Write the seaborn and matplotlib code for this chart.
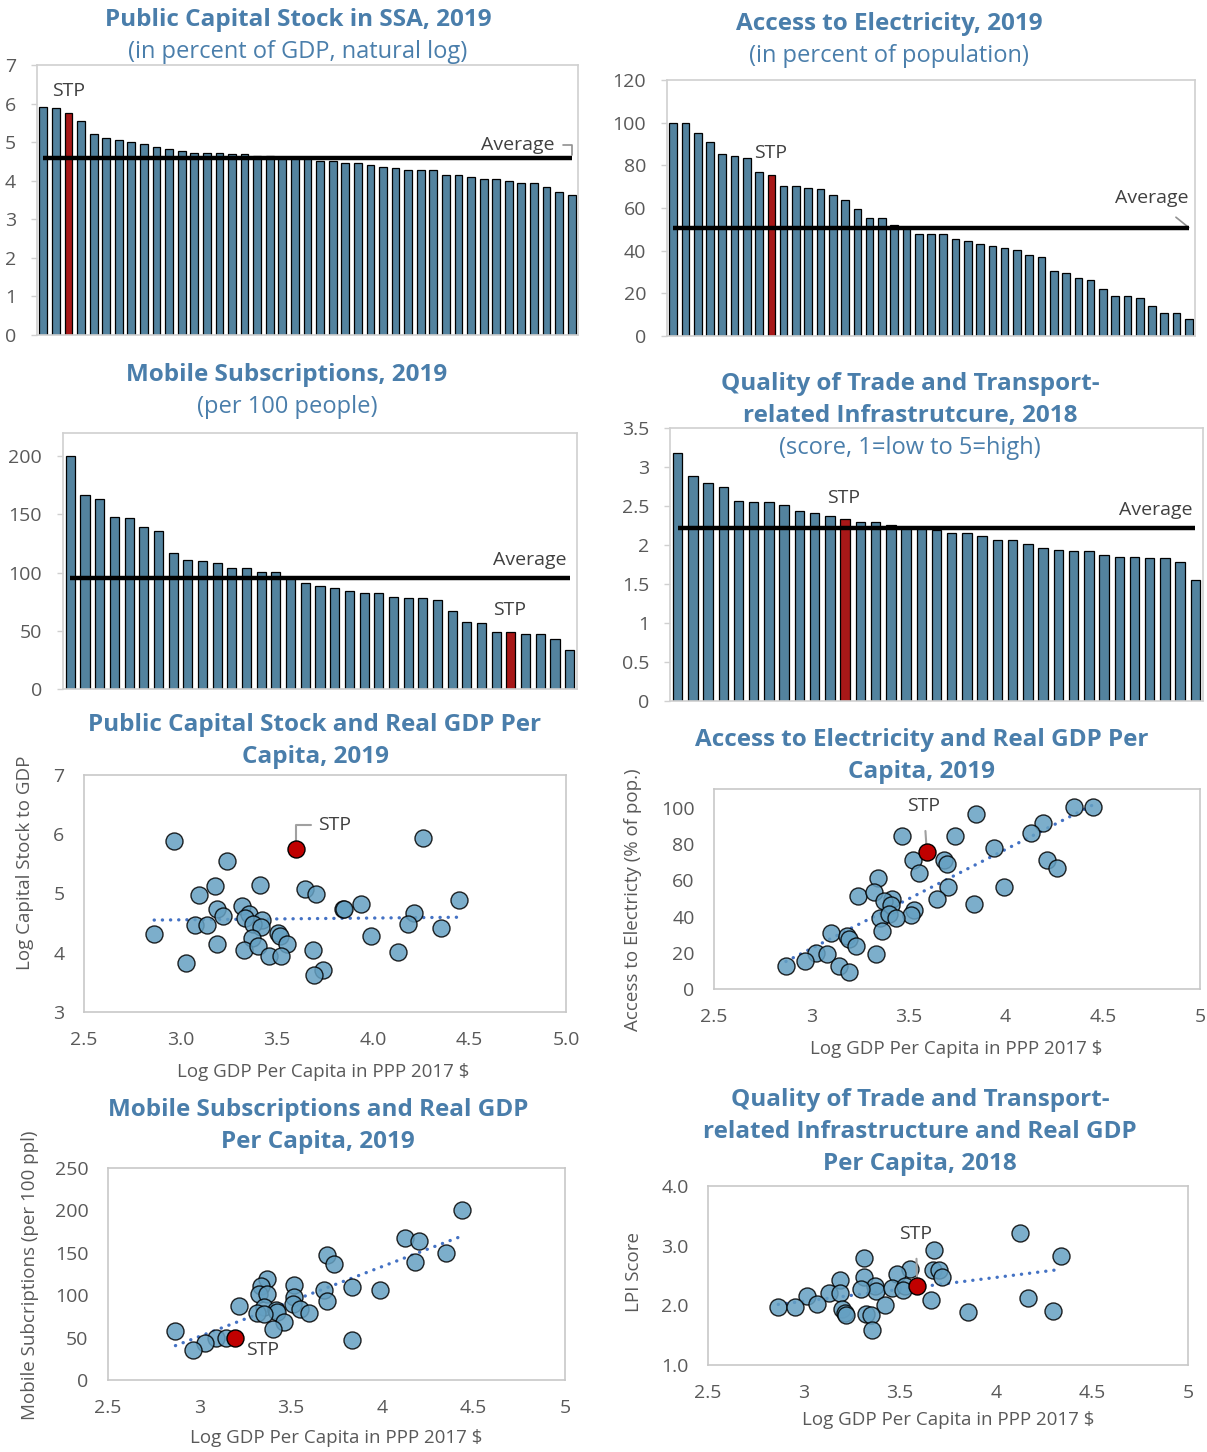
import numpy as np
import pandas as pd
import matplotlib
matplotlib.use("Agg")
import matplotlib.pyplot as plt
import seaborn as sns

sns.set_theme(style="white")
plt.rcParams["font.family"] = ["Open Sans", "DejaVu Sans"]

# ---------------- data ----------------
# Bar panels: values sorted high to low; STP position marked separately
capital_stock = [5.92, 5.88, 5.75, 5.55, 5.20, 5.10, 5.05, 5.00, 4.95, 4.87,
                 4.82, 4.77, 4.72, 4.72, 4.72, 4.68, 4.68, 4.63, 4.63, 4.58,
                 4.58, 4.58, 4.50, 4.50, 4.45, 4.45, 4.40, 4.35, 4.32, 4.28,
                 4.28, 4.28, 4.15, 4.15, 4.10, 4.05, 4.05, 4.00, 3.95, 3.95,
                 3.85, 3.72, 3.62]
capital_stp = 2

electricity = [100.0, 100.0, 95.2, 91.0, 85.2, 84.4, 83.4, 76.9, 75.5, 70.3,
               70.3, 69.5, 68.8, 66.1, 63.8, 59.5, 55.5, 55.5, 52.0, 51.0,
               47.8, 47.8, 47.8, 45.5, 44.5, 43.0, 42.2, 41.3, 40.5, 38.0,
               37.0, 30.5, 29.7, 27.2, 26.4, 22.2, 18.9, 18.9, 18.0, 13.9,
               10.6, 10.6, 8.1]
electricity_stp = 8

mobile = [200.0, 166.3, 163.4, 148.1, 146.7, 138.9, 135.7, 117.3, 111.2, 109.8,
          108.4, 103.7, 103.7, 100.6, 100.6, 95.7, 91.4, 88.5, 87.0, 83.9,
          82.4, 82.4, 79.3, 77.8, 77.8, 76.1, 67.1, 57.9, 56.5, 49.0,
          49.0, 47.3, 47.3, 42.9, 33.7]
mobile_stp = 30

lpi = [3.18, 2.89, 2.80, 2.75, 2.57, 2.55, 2.55, 2.51, 2.44, 2.41,
       2.37, 2.33, 2.30, 2.30, 2.26, 2.22, 2.22, 2.19, 2.16, 2.16,
       2.12, 2.07, 2.07, 2.01, 1.96, 1.94, 1.92, 1.92, 1.87, 1.85,
       1.85, 1.83, 1.83, 1.78, 1.55]
lpi_stp = 11

# Scatter panels: log GDP per capita (PPP 2017 $) vs indicator, other SSA countries
cap_gdp = [2.967, 4.260, 3.240, 3.411, 3.180, 3.097, 3.644, 3.705, 4.443, 3.936,
           3.842, 3.848, 3.319, 3.188, 3.355, 3.220, 3.337, 3.425, 3.375, 3.417,
           3.077, 3.138, 2.864, 4.210, 4.181, 4.354, 3.504, 3.516, 3.371, 3.988,
           3.188, 3.552, 3.329, 3.403, 3.461, 3.524, 3.687, 4.131, 3.027, 3.739,
           3.693]
cap_val = [5.88, 5.94, 5.55, 5.15, 5.13, 4.97, 5.07, 5.00, 4.89, 4.82,
           4.74, 4.74, 4.79, 4.74, 4.66, 4.62, 4.58, 4.56, 4.49, 4.43,
           4.46, 4.46, 4.32, 4.67, 4.49, 4.41, 4.34, 4.29, 4.25, 4.29,
           4.14, 4.14, 4.04, 4.11, 3.95, 3.95, 4.04, 4.02, 3.83, 3.71,
           3.62]
cap_stp_gdp, cap_stp_val = 3.598, 5.75

elec_gdp = [4.354, 4.449, 3.848, 4.192, 4.131, 3.465, 3.738, 3.939, 3.524, 3.684,
            3.696, 4.212, 4.264, 3.554, 3.344, 3.241, 3.324, 3.706, 3.993, 3.647,
            3.415, 3.376, 3.413, 3.840, 3.528, 3.514, 3.356, 3.400, 3.437, 3.364,
            3.101, 3.182, 3.192, 3.232, 3.024, 3.079, 3.334, 2.967, 2.870, 3.141,
            3.192]
elec_val = [100.6, 100.6, 96.7, 91.7, 86.0, 84.8, 84.8, 78.0, 71.2, 71.2,
            69.1, 71.2, 67.1, 64.3, 61.2, 51.6, 53.4, 56.6, 56.6, 49.7,
            49.5, 48.6, 46.6, 46.8, 43.6, 40.7, 39.4, 41.2, 39.0, 32.0,
            30.9, 29.4, 27.9, 23.7, 20.0, 19.4, 19.4, 15.3, 12.6, 12.6,
            9.6]
elec_stp_gdp, elec_stp_val = 3.595, 75.5

mob_gdp = [4.436, 4.126, 4.204, 4.348, 4.179, 3.697, 3.734, 3.372, 3.338, 3.516,
           3.328, 3.370, 3.837, 3.988, 3.680, 3.518, 3.512, 3.219, 3.355, 3.418,
           3.424, 3.550, 3.697, 3.315, 3.351, 3.600, 3.464, 3.401, 2.869, 3.093,
           3.145, 3.028, 2.963, 3.837]
mob_val = [200.0, 168.0, 164.5, 149.8, 139.6, 147.9, 137.3, 118.9, 111.4, 112.2,
           101.6, 101.6, 110.2, 106.3, 105.9, 98.0, 89.7, 87.3, 85.8, 82.6,
           80.3, 84.3, 93.3, 79.0, 77.5, 78.7, 68.5, 59.8, 57.9, 49.6,
           49.6, 43.7, 35.0, 47.6]
mob_stp_gdp, mob_stp_val = 3.194, 49.0

lpi_gdp = [4.124, 4.339, 3.679, 3.311, 3.311, 3.550, 3.484, 3.673, 3.703, 3.720,
           3.190, 3.369, 3.375, 3.299, 3.128, 3.186, 3.456, 3.526, 3.514, 3.659,
           3.017, 3.069, 3.422, 2.866, 2.955, 3.198, 3.212, 3.219, 3.323, 3.351,
           3.353, 3.852, 4.166, 4.299]
lpi_val = [3.21, 2.83, 2.93, 2.79, 2.48, 2.61, 2.53, 2.59, 2.59, 2.48,
           2.42, 2.33, 2.24, 2.27, 2.21, 2.21, 2.29, 2.32, 2.26, 2.09,
           2.15, 2.03, 2.01, 1.97, 1.97, 1.94, 1.87, 1.84, 1.86, 1.83,
           1.59, 1.88, 2.12, 1.91]
lpi_stp_gdp, lpi_stp_val = 3.589, 2.33

# ---------------- style ----------------
TITLE_BLUE = "#4A7EAB"
BAR_BLUE = "#4787AB"
STP_RED = "#C00000"
DOT_BLUE = "#65A0C2"
TREND_BLUE = "#4472C4"
TICK_GREY = "#595959"
FRAME_GREY = "#D0D0D0"
TEXT_GREY = "#404040"
TITLE_SIZE = 17.5
TICK_SIZE = 14
NOTE_SIZE = 14
LABEL_SIZE = 13.5

W, H = 1207, 1452
fig = plt.figure(figsize=(W / 100, H / 100), dpi=100)


def axes_px(left, right, top, bottom):
    return fig.add_axes([left / W, 1 - bottom / H, (right - left) / W, (bottom - top) / H])


def fig_title(lines, x, ys, bold_count):
    for i, (line, y) in enumerate(zip(lines, ys)):
        fig.text(x / W, 1 - y / H, line, ha="center", va="center",
                 color=TITLE_BLUE, fontsize=TITLE_SIZE if i < bold_count else TITLE_SIZE - 0.5,
                 fontweight="bold" if i < bold_count else "normal")


def frame(ax, color=FRAME_GREY):
    for s in ax.spines.values():
        s.set_visible(True)
        s.set_color(color)
        s.set_linewidth(1.2)


def bar_panel(ax, values, stp_idx, ylim, yticks):
    n = len(values)
    df = pd.DataFrame({"rank": np.arange(n), "value": values,
                       "group": ["STP" if i == stp_idx else "SSA" for i in range(n)]})
    sns.barplot(data=df, x="rank", y="value", hue="group",
                palette={"SSA": BAR_BLUE, "STP": STP_RED}, dodge=False,
                width=0.62, edgecolor="black", linewidth=0.9, legend=False, ax=ax)
    avg = float(np.mean(values))
    ax.plot([0, n - 1], [avg, avg], color="black", lw=3.2, solid_capstyle="butt", zorder=5)
    ax.set_xlim(-0.5, n - 0.5)
    ax.set_ylim(*ylim)
    ax.set_yticks(yticks)
    ax.set_xticks([])
    ax.set_xlabel("")
    ax.set_ylabel("")
    ax.tick_params(axis="y", length=4, width=1, color=FRAME_GREY, pad=11,
                   labelsize=TICK_SIZE, labelcolor=TICK_GREY, left=True)
    frame(ax)
    return avg


def scatter_panel(ax, gx, gy, sx, sy, xlim, xticks, xfmt, ylim, yticks, yfmt):
    sns.scatterplot(x=gx, y=gy, ax=ax, s=150, color=DOT_BLUE, alpha=0.85,
                    edgecolor="black", linewidth=1.0, zorder=3)
    sns.scatterplot(x=[sx], y=[sy], ax=ax, s=150, color=STP_RED,
                    edgecolor="black", linewidth=1.0, zorder=4)
    allx = np.array(gx + [sx])
    ally = np.array(gy + [sy])
    slope, icpt = np.polyfit(allx, ally, 1)
    tx = np.array([allx.min(), allx.max()])
    ax.plot(tx, icpt + slope * tx, color=TREND_BLUE, lw=2.4,
            linestyle=(0, (0.05, 2.4)), dash_capstyle="round", zorder=2)
    ax.set_xlim(*xlim)
    ax.set_ylim(*ylim)
    ax.set_xticks(xticks)
    ax.set_xticklabels([xfmt(v) for v in xticks])
    ax.set_yticks(yticks)
    ax.set_yticklabels([yfmt(v) for v in yticks])
    ax.tick_params(axis="both", length=0, pad=14, labelsize=TICK_SIZE, labelcolor=TICK_GREY)
    frame(ax, "#C8C8C8")


def axis_labels(ax, xlabel, xpos, ylabel, ypos):
    ax.set_xlabel(xlabel, fontsize=LABEL_SIZE, color=TICK_GREY)
    ax.xaxis.set_label_coords(*xpos)
    ax.xaxis.label.set_verticalalignment("center")
    ax.set_ylabel(ylabel, fontsize=LABEL_SIZE, color=TICK_GREY)
    ax.yaxis.set_label_coords(*ypos)
    ax.yaxis.label.set_verticalalignment("center")


# ---------------- bar charts ----------------
ax1 = axes_px(37, 578, 65, 335)
avg1 = bar_panel(ax1, capital_stock, capital_stp, (0, 7), range(0, 8))
ax1.text(capital_stp, 6.32, "STP", ha="center", va="center", fontsize=NOTE_SIZE, color=TEXT_GREY)
ax1.annotate("Average", xy=(len(capital_stock) - 1 + 0.05, avg1 + 0.08), xytext=(40.6, 4.92),
             ha="right", va="center", fontsize=NOTE_SIZE, color=TEXT_GREY,
             arrowprops=dict(arrowstyle="-", color="#909090", lw=1.2, shrinkA=4, shrinkB=0,
                             connectionstyle="angle,angleA=0,angleB=90,rad=0"))
fig_title(["Public Capital Stock in SSA, 2019", "(in percent of GDP, natural log)"],
          298, [20, 52], 1)

ax2 = axes_px(667, 1195, 80, 336)
avg2 = bar_panel(ax2, electricity, electricity_stp, (0, 120), range(0, 121, 20))
ax2.text(7.9, 86, "STP", ha="center", va="center", fontsize=NOTE_SIZE, color=TEXT_GREY)
ax2.annotate("Average", xy=(len(electricity) - 1, avg2), xytext=(39.0, 64.7),
             ha="center", va="center", fontsize=NOTE_SIZE, color=TEXT_GREY,
             arrowprops=dict(arrowstyle="-", color="#909090", lw=1.2, shrinkA=8, shrinkB=0))
fig_title(["Access to Electricity, 2019", "(in percent of population)"], 889, [24, 56], 1)

ax3 = axes_px(63, 577, 433, 689)
avg3 = bar_panel(ax3, mobile, mobile_stp, (0, 220), range(0, 201, 50))
ax3.text(31.3, 110.7, "Average", ha="center", va="center", fontsize=NOTE_SIZE, color=TEXT_GREY)
ax3.text(29.9, 67.8, "STP", ha="center", va="center", fontsize=NOTE_SIZE, color=TEXT_GREY)
fig_title(["Mobile Subscriptions, 2019", "(per 100 people)"], 287, [375, 407], 1)

ax4 = axes_px(670, 1203, 428, 701)
avg4 = bar_panel(ax4, lpi, lpi_stp, (0, 3.5), [0, 0.5, 1, 1.5, 2, 2.5, 3, 3.5])
ax4.set_yticklabels(["0", "0.5", "1", "1.5", "2", "2.5", "3", "3.5"])
ax4.text(10.9, 2.60, "STP", ha="center", va="center", fontsize=NOTE_SIZE, color=TEXT_GREY)
ax4.text(31.4, 2.45, "Average", ha="center", va="center", fontsize=NOTE_SIZE, color=TEXT_GREY)
fig_title(["Quality of Trade and Transport-", "related Infrastrutcure, 2018",
           "(score, 1=low to 5=high)"], 910, [384, 416, 448], 2)

# ---------------- scatter charts ----------------
fmt_one = lambda v: f"{v:.1f}"
fmt_g = lambda v: f"{v:g}"

ax5 = axes_px(84, 566, 775, 1012)
scatter_panel(ax5, cap_gdp, cap_val, cap_stp_gdp, cap_stp_val,
              (2.5, 5.0), [2.5, 3.0, 3.5, 4.0, 4.5, 5.0], fmt_one,
              (3, 7), [3, 4, 5, 6, 7], fmt_g)
axis_labels(ax5, "Log GDP Per Capita in PPP 2017 $", (0.496, -0.253),
            "Log Capital Stock to GDP", (-0.122, 0.63))
ax5.annotate("STP", xy=(cap_stp_gdp, cap_stp_val), xytext=(3.714, 6.156),
             ha="left", va="center", fontsize=NOTE_SIZE, color=TEXT_GREY,
             arrowprops=dict(arrowstyle="-", color="#A0A0A0", lw=1.5, shrinkA=3, shrinkB=0,
                             connectionstyle="angle,angleA=0,angleB=90,rad=0"))
fig_title(["Public Capital Stock and Real GDP Per", "Capita, 2019"], 315, [725, 757], 2)

ax6 = axes_px(714, 1200, 789, 989)
scatter_panel(ax6, elec_gdp, elec_val, elec_stp_gdp, elec_stp_val,
              (2.5, 5.0), [2.5, 3, 3.5, 4, 4.5, 5], fmt_g,
              (0, 110.5), [0, 20, 40, 60, 80, 100], fmt_g)
axis_labels(ax6, "Log GDP Per Capita in PPP 2017 $", (0.498, -0.30),
            "Access to Electricty (% of pop.)", (-0.167, 0.445))
ax6.annotate("STP", xy=(elec_stp_gdp, elec_stp_val), xytext=(3.579, 101),
             ha="center", va="center", fontsize=NOTE_SIZE, color=TEXT_GREY,
             arrowprops=dict(arrowstyle="-", color="#A0A0A0", lw=1.5, shrinkA=9, shrinkB=0))
fig_title(["Access to Electricity and Real GDP Per", "Capita, 2019"], 922, [740, 772], 2)

ax7 = axes_px(108, 565, 1168, 1380)
scatter_panel(ax7, mob_gdp, mob_val, mob_stp_gdp, mob_stp_val,
              (2.5, 5.0), [2.5, 3, 3.5, 4, 4.5, 5], fmt_g,
              (0, 250), [0, 50, 100, 150, 200, 250], fmt_g)
axis_labels(ax7, "Log GDP Per Capita in PPP 2017 $", (0.499, -0.274),
            "Mobile Subcriptions (per 100 ppl)", (-0.171, 0.495))
ax7.text(3.255, 35.4, "STP", ha="left", va="center", fontsize=NOTE_SIZE, color=TEXT_GREY)
fig_title(["Mobile Subscriptions and Real GDP", "Per Capita, 2019"], 318, [1110, 1142], 2)

ax8 = axes_px(708, 1188, 1186, 1365)
scatter_panel(ax8, lpi_gdp, lpi_val, lpi_stp_gdp, lpi_stp_val,
              (2.5, 5.0), [2.5, 3, 3.5, 4, 4.5, 5], fmt_g,
              (1, 4), [1, 2, 3, 4], fmt_one)
axis_labels(ax8, "Log GDP Per Capita in PPP 2017 $", (0.5, -0.307),
            "LPI Score", (-0.154, 0.52))
ax8.annotate("STP", xy=(lpi_stp_gdp, lpi_stp_val), xytext=(3.583, 3.196),
             ha="center", va="center", fontsize=NOTE_SIZE, color=TEXT_GREY,
             arrowprops=dict(arrowstyle="-", color="#A0A0A0", lw=1.5, shrinkA=9, shrinkB=0))
fig_title(["Quality of Trade and Transport-", "related Infrastructure and Real GDP",
           "Per Capita, 2018"], 920, [1100, 1132, 1164], 3)

fig.savefig("out.png", dpi=100, facecolor="white")
